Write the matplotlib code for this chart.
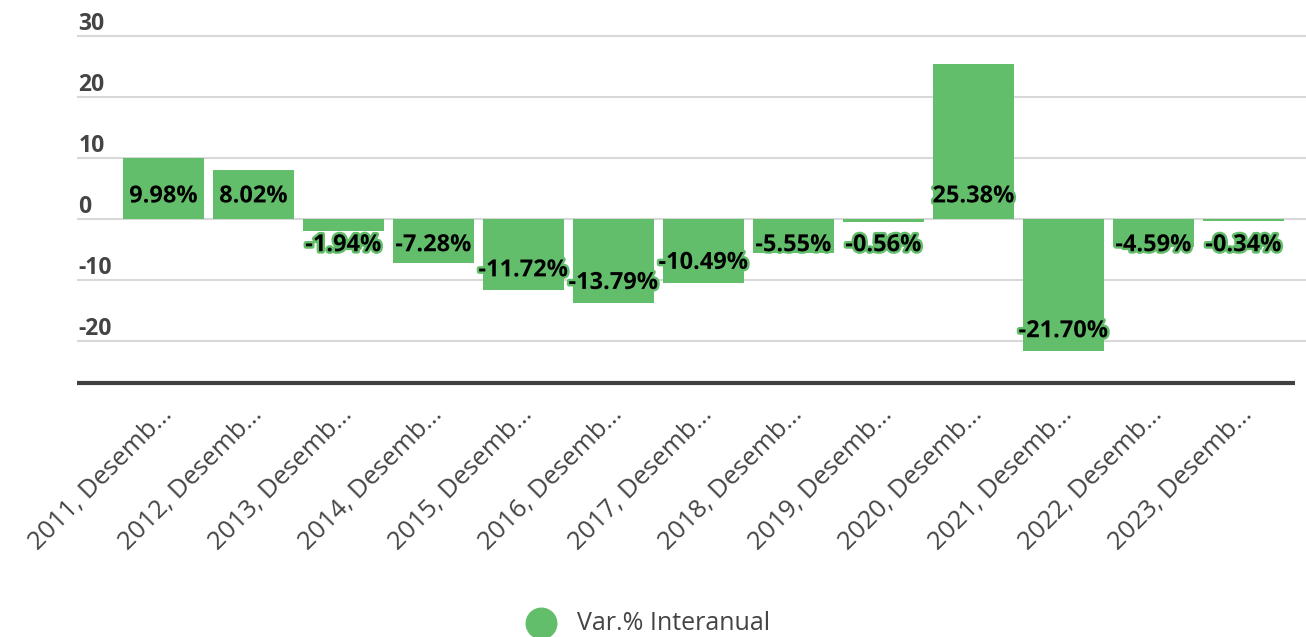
import matplotlib
matplotlib.use("Agg")
from matplotlib import pyplot as plt
from matplotlib import patheffects as pe
from matplotlib.lines import Line2D
from matplotlib.transforms import blended_transform_factory, offset_copy, ScaledTranslation

categories = [
    "2011, Desemb…", "2012, Desemb…", "2013, Desemb…", "2014, Desemb…",
    "2015, Desemb…", "2016, Desemb…", "2017, Desemb…", "2018, Desemb…",
    "2019, Desemb…", "2020, Desemb…", "2021, Desemb…", "2022, Desemb…",
    "2023, Desemb…",
]
values = [9.98, 8.02, -1.94, -7.28, -11.72, -13.79, -10.49, -5.55, -0.56, 25.38, -21.70, -4.59, -0.34]
yticks = [-20, -10, 0, 10, 20, 30]
series_name = "Var.% Interanual"

GREEN = "#63be6b"
TXT = "#444444"
W, H = 1306, 637

plt.rcParams["font.family"] = ["Open Sans", "DejaVu Sans"]

fig = plt.figure(figsize=(W / 100, H / 100), dpi=100)
ax = fig.add_axes([77 / W, 1 - 383 / H, (W - 77) / W, (383 - 34) / H])

x = list(range(len(values)))
ax.bar(x, values, width=0.9, color=GREEN, zorder=2)

ax.set_xlim(-0.961, 12.694)
ax.set_ylim(-26.89, 30.33)

# gridlines + y labels sitting above them
trans = blended_transform_factory(ax.transAxes, ax.transData)
for t in yticks:
    ax.axhline(t, color="#d8d8d8", lw=1.5, zorder=1)
    ax.text(0.001, t, str(t), transform=offset_copy(trans, fig=fig, y=4, units="points"),
            ha="left", va="baseline", fontsize=16.5, fontweight="bold", color=TXT)

# bottom axis line
ax.plot([0, 0.991], [0, 0], transform=ax.transAxes, color="#404040", lw=3,
        clip_on=False, solid_capstyle="butt", zorder=3)

for s in ax.spines.values():
    s.set_visible(False)
ax.set_yticks([])
ax.set_xticks(x)
ax.set_xticklabels(categories, rotation=45, ha="right", rotation_mode="anchor",
                   fontsize=18.5, color=TXT)
ax.tick_params(axis="x", length=0, pad=14)
shift = ScaledTranslation(-4 / 100, 0, fig.dpi_scale_trans)
for lab in ax.get_xticklabels():
    lab.set_transform(lab.get_transform() + shift)

# value labels
for xi, v in zip(x, values):
    if v >= 0:
        ly = 3.7
    else:
        ly = min(v + 3.3, -4.3)
    ax.text(xi, ly, f"{v:.2f}%", ha="center", va="center", fontsize=17,
            fontweight="bold", color="#000000", zorder=4,
            path_effects=[pe.withStroke(linewidth=3.5, foreground=GREEN)])

# legend
fig.add_artist(Line2D([541 / W], [1 - 623 / H], marker="o", ms=22, color=GREEN,
                      transform=fig.transFigure, lw=0))
fig.text(577 / W, 1 - 623 / H, series_name, ha="left", va="center",
         fontsize=18, color=TXT)

fig.savefig("out.png", dpi=100)
